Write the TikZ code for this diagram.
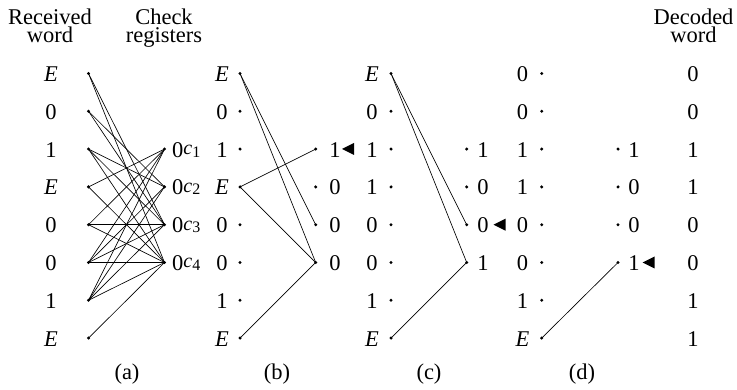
\documentclass[tikz,border=0pt]{standalone}
\usepackage{fontspec}
\setmainfont{Liberation Serif}
\newcommand{\Ee}{\textit{E}}
\newcommand{\cc}[1]{0\raisebox{2.5pt}{\fontsize{20}{20}\selectfont\textit{c}}{\fontsize{16}{16}\selectfont #1}}
\begin{document}
\begin{tikzpicture}[x=1pt,y=-1pt,
  dot/.style={circle,fill=black,inner sep=0pt,minimum size=3.3pt},
  lbl/.style={anchor=base,inner sep=0pt,font=\fontsize{22.5}{22.5}\selectfont},
  head/.style={anchor=base,inner sep=0pt,align=center,font=\fontsize{22.5}{18.5}\selectfont},
  edge/.style={line width=0.65pt},
  tri/.style={fill=black}]
\useasboundingbox (0,0) rectangle (737,390);
% headers
\node[head] (h1) at (50,43) {Received\\word};
\node[head] (h2) at (164,43) {Check\\registers};
\node[head] (h3) at (693.5,43) {Decoded\\word};
% panel (a)
\foreach \t [count=\i] in {\Ee,0,1,\Ee,0,0,1,\Ee}{
  \pgfmathsetmacro\yy{73.5+37.8*(\i-1)}
  \node[dot] (a\i) at (88.5,\yy) {};
  \node[lbl] (at\i) at (51,\yy+8) {\t};
}
\foreach \j in {1,...,4}{
  \pgfmathsetmacro\yy{73.5+37.8*(\j+1)}
  \node[dot] (ac\j) at (164.5,\yy) {};
  \node[lbl,anchor=base west] (act\j) at (172,\yy+8) {\cc{\j}};
}
\foreach \v/\c in {1/3,1/4,2/2,2/3,3/2,3/3,3/4,4/1,4/4,5/1,5/3,5/4,6/1,6/2,6/3,6/4,7/1,7/2,7/3,7/4,8/4}
  \draw[edge] (a\v.center) -- (ac\c.center);
% panel (b)
\foreach \t [count=\i] in {\Ee,0,1,\Ee,0,0,1,\Ee}{
  \pgfmathsetmacro\yy{73.5+37.8*(\i-1)}
  \node[dot] (b\i) at (240,\yy) {};
  \node[lbl] (bt\i) at (222,\yy+8) {\t};
}
\foreach \t [count=\j] in {1,0,0,0}{
  \pgfmathsetmacro\yy{73.5+37.8*(\j+1)}
  \node[dot] (bc\j) at (315.7,\yy) {};
  \node[lbl] (bct\j) at (335,\yy+8) {\t};
}
\foreach \v/\c in {1/3,1/4,4/1,4/4,8/4}
  \draw[edge] (b\v.center) -- (bc\c.center);
\coordinate (tb) at (348,149);
\fill[tri] (tb) +(-6,0) -- +(6,-6) -- +(6,6) -- cycle;
% panel (c)
\foreach \t [count=\i] in {\Ee,0,1,1,0,0,1,\Ee}{
  \pgfmathsetmacro\yy{73.5+37.8*(\i-1)}
  \node[dot] (c\i) at (391,\yy) {};
  \node[lbl] (ct\i) at (372,\yy+8) {\t};
}
\foreach \t [count=\j] in {1,0,0,1}{
  \pgfmathsetmacro\yy{73.5+37.8*(\j+1)}
  \node[dot] (cc\j) at (466.7,\yy) {};
  \node[lbl] (cct\j) at (483,\yy+8) {\t};
}
\foreach \v/\c in {1/3,1/4,8/4}
  \draw[edge] (c\v.center) -- (cc\c.center);
\coordinate (tc) at (499.5,224.7);
\fill[tri] (tc) +(-6,0) -- +(6,-6) -- +(6,6) -- cycle;
% panel (d)
\foreach \t [count=\i] in {0,0,1,1,0,0,1,\Ee}{
  \pgfmathsetmacro\yy{73.5+37.8*(\i-1)}
  \node[dot] (d\i) at (541.7,\yy) {};
  \node[lbl] (dt\i) at (522.5,\yy+8) {\t};
}
\foreach \t [count=\j] in {1,0,0,1}{
  \pgfmathsetmacro\yy{73.5+37.8*(\j+1)}
  \node[dot] (dc\j) at (618,\yy) {};
  \node[lbl] (dct\j) at (634,\yy+8) {\t};
}
\draw[edge] (d8.center) -- (dc4.center);
\coordinate (td) at (648.5,262.5);
\fill[tri] (td) +(-6,0) -- +(6,-6) -- +(6,6) -- cycle;
% decoded word
\foreach \t [count=\i] in {0,0,1,1,0,0,1,1}{
  \pgfmathsetmacro\yy{73.5+37.8*(\i-1)}
  \node[lbl] (w\i) at (693,\yy+8) {\t};
}
% panel labels
\node[lbl] (la) at (127,379) {(a)};
\node[lbl] (lb) at (277,379) {(b)};
\node[lbl] (lc) at (429,379) {(c)};
\node[lbl] (ld) at (582,379) {(d)};
\end{tikzpicture}
\end{document}
